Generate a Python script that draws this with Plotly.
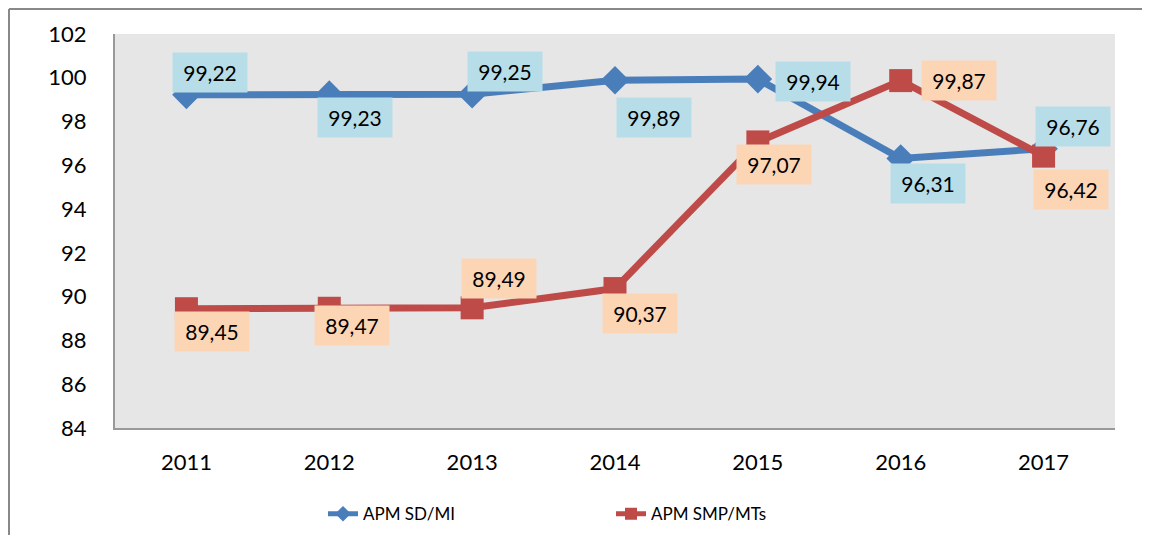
import plotly.graph_objects as go

years = ["2011", "2012", "2013", "2014", "2015", "2016", "2017"]
sd_mi = [99.22, 99.23, 99.25, 99.89, 99.94, 96.31, 96.76]
smp_mts = [89.45, 89.47, 89.49, 90.37, 97.07, 99.87, 96.42]
y_ticks = [84, 86, 88, 90, 92, 94, 96, 98, 100, 102]

# label offsets (pixels) from each point
sd_dx = [24, 26, 33, 39, 55, 27, 29]
sd_dy = [22, -23, 23, -37, -2, -25, 22]
smp_dx = [26, 23, 27, 25, 16, 58, 27]
smp_dy = [-23, -17, 29, -25, -23, 0, -33]

BLUE = "#4a7ebb"
RED = "#be4b48"
FONT = "Lato, Open Sans, sans-serif"

fig = go.Figure()
fig.add_trace(go.Scatter(
    x=years, y=sd_mi, name="APM SD/MI", mode="lines+markers",
    line=dict(color=BLUE, width=7),
    marker=dict(symbol="diamond", size=22, color=BLUE),
))
fig.add_trace(go.Scatter(
    x=years, y=smp_mts, name="APM SMP/MTs", mode="lines+markers",
    line=dict(color=RED, width=7),
    marker=dict(symbol="square", size=23, color=RED),
))

def fmt(v):
    return f"{v:.2f}".replace(".", ",")

anns = []
for i, (v, dx, dy) in enumerate(zip(sd_mi, sd_dx, sd_dy)):
    anns.append(dict(x=i, y=v, xref="x", yref="y", text=fmt(v), showarrow=False,
                     xshift=dx, yshift=dy, bgcolor="#b7dde8", width=72, height=37,
                     font=dict(family=FONT, size=21, color="#000")))
for i, (v, dx, dy) in enumerate(zip(smp_mts, smp_dx, smp_dy)):
    anns.append(dict(x=i, y=v, xref="x", yref="y", text=fmt(v), showarrow=False,
                     xshift=dx, yshift=dy, bgcolor="#fcd5b5", width=72, height=37,
                     font=dict(family=FONT, size=21, color="#000")))

fig.update_layout(
    width=1150, height=535,
    margin=dict(l=107, r=43, t=26, b=114),
    paper_bgcolor="white", plot_bgcolor="#e6e6e6",
    font=dict(family=FONT, size=22, color="#000"),
    annotations=anns,
    showlegend=True,
    legend=dict(orientation="h", x=0.208, y=-0.17, xanchor="left", yanchor="top",
                entrywidth=243, entrywidthmode="pixels", itemsizing="constant",
                font=dict(family=FONT, size=17), bgcolor="rgba(0,0,0,0)"),
    shapes=[
        dict(type="line", xref="paper", yref="paper", x0=-0.106, x1=1.05, y0=1.0633, y1=1.0633,
             line=dict(color="#888888", width=2)),
        dict(type="line", xref="paper", yref="paper", x0=-0.106, x1=-0.106, y0=1.0633, y1=-0.3,
             line=dict(color="#888888", width=2)),
    ],
)
fig.update_xaxes(type="category", range=[-0.5, 6.5], showgrid=False, showline=True,
                 linecolor="#999999", linewidth=2, ticks="", ticklabelstandoff=14,
                 tickfont=dict(size=22))
fig.update_yaxes(range=[84, 102], tickvals=y_ticks, showgrid=False, showline=True,
                 linecolor="#999999", linewidth=2, ticks="", ticklabelstandoff=22,
                 zeroline=False, tickfont=dict(size=22))

fig.write_html("out.html")
